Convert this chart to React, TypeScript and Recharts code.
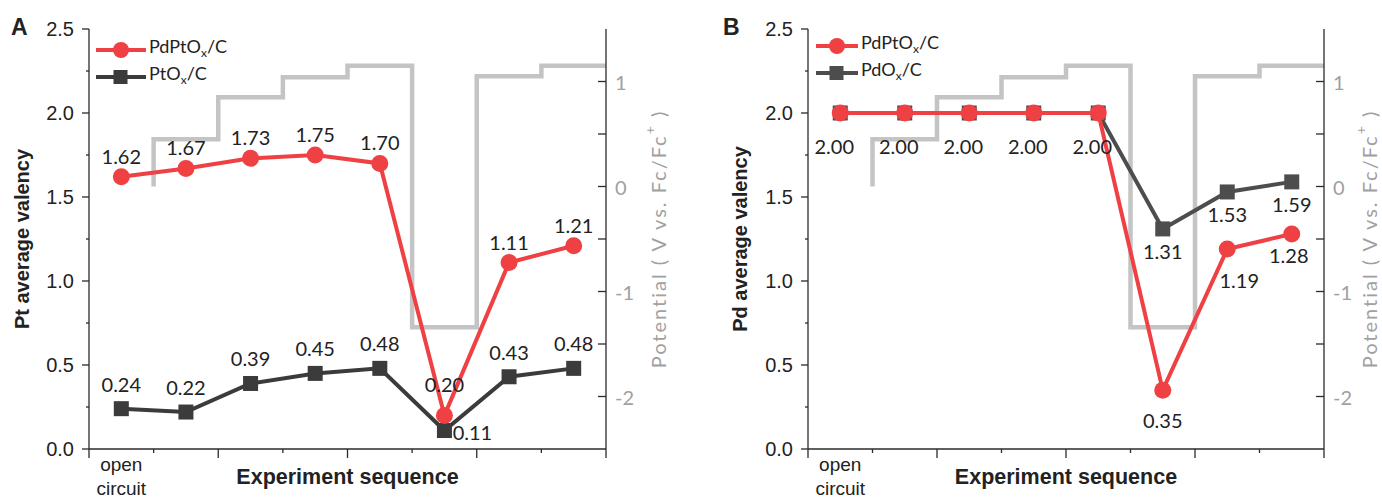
import React from "react";
import { LineChart, Line, XAxis, YAxis, Legend, LabelList } from "recharts";

// valency per step of the sequence (8 steps, first one is open circuit)
const ptPdPt = [1.62, 1.67, 1.73, 1.75, 1.7, 0.2, 1.11, 1.21];
const ptPtOx = [0.24, 0.22, 0.39, 0.45, 0.48, 0.11, 0.43, 0.48];
const pdPdPt = [2.0, 2.0, 2.0, 2.0, 2.0, 0.35, 1.19, 1.28];
const pdPdOx = [2.0, 2.0, 2.0, 2.0, 2.0, 1.31, 1.53, 1.59];

// applied potential (V vs Fc/Fc+), stepped at the sequence boundaries
const stepEdges = [1, 1, 2, 3, 4, 5, 6, 7, 8];
const potential = [0, 0.45, 0.85, 1.04, 1.15, -1.34, 1.05, 1.15, 1.15];

const xTicks = [0, 0.5, 1, 2, 3, 4, 5, 6, 7, 8];
const leftTicks = [0, 0.25, 0.5, 0.75, 1, 1.25, 1.5, 1.75, 2, 2.25, 2.5];
const rightTicks = [-2, -1.5, -1, -0.5, 0, 0.5, 1];

const RED = "#ef4044";
const GRAY = "#c4c4c4";
const AXIS = "#2b2b2b";
const MUTED = "#a0a0a0";
const INK = "#222";

const toSeries = (vals: number[]) => vals.map((v, i) => ({ x: i + 0.5, v }));
const stepSeries = stepEdges.map((x, i) => ({ x, v: potential[i] }));

const XTick = (p: any) => {
  const { x, y, payload } = p;
  const v = payload.value;
  if (v === 0.5) {
    return (
      <text x={x} y={y + 22} textAnchor="middle" fontFamily="Liberation Sans" fontSize={19} fill={INK}>
        <tspan x={x}>open</tspan>
        <tspan x={x} dy={24}>circuit</tspan>
      </text>
    );
  }
  const major = v % 2 === 0;
  return <line x1={x} x2={x} y1={y} y2={y + (major ? 9 : 4)} stroke={AXIS} strokeWidth={1.3} />;
};

const LeftTick = (p: any) => {
  const { x, y, payload } = p;
  const v = payload.value;
  const major = Math.abs(v * 2 - Math.round(v * 2)) < 1e-6;
  return (
    <g>
      <line x1={x - (major ? 7 : 3)} x2={x} y1={y} y2={y} stroke={AXIS} strokeWidth={1.3} />
      {major && (
        <text x={x - 15} y={y} textAnchor="end" dominantBaseline="central" fontFamily="Liberation Sans" fontSize={20} fill={INK}>
          {v.toFixed(1)}
        </text>
      )}
    </g>
  );
};

const RightTick = (p: any) => {
  const { x, y, payload } = p;
  const v = payload.value;
  return (
    <g>
      <line x1={x - 8} x2={x} y1={y} y2={y} stroke={AXIS} strokeWidth={1.3} />
      {Number.isInteger(v) && (
        <text x={x + 9} y={y} dominantBaseline="central" fontFamily="Lato" fontSize={20} fill={MUTED}>
          {v}
        </text>
      )}
    </g>
  );
};

const YTitle = ({ viewBox, text, dx }: any) => {
  const cx = viewBox.x + dx;
  const cy = viewBox.y + viewBox.height / 2;
  return (
    <text x={cx} y={cy} transform={`rotate(-90 ${cx} ${cy})`} textAnchor="middle" dominantBaseline="central"
      fontFamily="Liberation Sans" fontWeight="bold" fontSize={20} fill={INK}>
      {text}
    </text>
  );
};

const PotTitle = ({ viewBox, dx }: any) => {
  const cx = viewBox.x + dx;
  const cy = viewBox.y + viewBox.height / 2;
  return (
    <text x={cx} y={cy} transform={`rotate(-90 ${cx} ${cy})`} textAnchor="middle" dominantBaseline="central"
      fontFamily="Lato" fontSize={20} letterSpacing={2} fill={MUTED}>
      Potential ( V vs. Fc/Fc<tspan dy={-9} fontSize={14}>+</tspan><tspan dy={9}> )</tspan>
    </text>
  );
};

const XTitle = ({ viewBox }: any) => (
  <text x={viewBox.x + viewBox.width / 2} y={viewBox.y + 35} textAnchor="middle"
    fontFamily="Liberation Sans" fontWeight="bold" fontSize={21.5} fill={INK}>
    Experiment sequence
  </text>
);

const squareDot = (color: string) => (p: any) => (
  <rect key={p.index} x={p.cx - 7.5} y={p.cy - 7.5} width={15} height={15} fill={color} />
);

type Rule = (i: number) => { dx: number; dy: number } | null;

const valueLabel = (rule: Rule) => (p: any) => {
  const r = rule(p.index);
  if (!r) return null;
  return (
    <text key={p.index} x={p.x + r.dx} y={p.y + r.dy} textAnchor="middle" dominantBaseline="central"
      fontFamily="Lato" fontSize={20} fill={INK}>
      {Number(p.value).toFixed(2)}
    </text>
  );
};

const SubName = ({ name }: { name: string }) => {
  const [a, b] = name.split("Ox");
  return (
    <span>
      {a}O<sub style={{ fontSize: 12, verticalAlign: -4 }}>x</sub>{b}
    </span>
  );
};

const LegendBox = ({ names, darkColor, lineW }: any) => (
  <div style={{ fontFamily: "Lato", fontSize: 18, color: INK, lineHeight: "27px" }}>
    {names.map((n: string, i: number) => (
      <div key={n} style={{ display: "flex", alignItems: "center", height: 27 }}>
        <svg width={lineW + 4} height={20} style={{ marginRight: 1 }}>
          <line x1={2} x2={lineW + 2} y1={10} y2={10} stroke={i === 0 ? RED : darkColor} strokeWidth={4} />
          {i === 0 ? (
            <circle cx={lineW / 2 + 2} cy={10} r={8} fill={RED} />
          ) : (
            <rect x={lineW / 2 - 5.5} y={3} width={14} height={14} fill={darkColor} />
          )}
        </svg>
        <SubName name={n} />
      </div>
    ))}
  </div>
);

interface PanelProps {
  left: number;
  width: number;
  leftW: number;
  rightW: number;
  letter: string;
  letterX: number;
  yTitle: string;
  yTitleDx: number;
  potDx: number;
  names: string[];
  legendLeft: number;
  legendTop: number;
  legendLineW: number;
  red: number[];
  dark: number[];
  darkColor: string;
  redRule: Rule;
  darkRule: Rule;
}

function Panel(p: PanelProps) {
  return (
    <div style={{ position: "absolute", left: p.left, top: 0, width: p.width, height: 498 }}>
      <div style={{ position: "absolute", left: p.letterX, top: 14, fontFamily: "Liberation Sans", fontWeight: "bold", fontSize: 23, color: INK, zIndex: 2 }}>
        {p.letter}
      </div>
      <LineChart width={p.width} height={498} margin={{ top: 29, right: 0, bottom: 0, left: 0 }}>
        <XAxis dataKey="x" type="number" domain={[0, 8]} ticks={xTicks} interval={0} height={49}
          tick={<XTick />} tickSize={0} tickMargin={0} tickLine={false}
          axisLine={{ stroke: AXIS, strokeWidth: 1.3 }} label={<XTitle />} allowDataOverflow />
        <XAxis xAxisId="top" orientation="top" type="number" domain={[0, 8]} height={0}
          tick={false} tickLine={false} axisLine={{ stroke: AXIS, strokeWidth: 1.3 }} />
        <YAxis yAxisId="l" domain={[0, 2.5]} ticks={leftTicks} interval={0} width={p.leftW}
          tick={<LeftTick />} tickSize={0} tickMargin={0} tickLine={false}
          axisLine={{ stroke: AXIS, strokeWidth: 1.3 }} label={<YTitle text={p.yTitle} dx={p.yTitleDx} />} allowDataOverflow />
        <YAxis yAxisId="r" orientation="right" domain={[-2.5, 1.5]} ticks={rightTicks} interval={0} width={p.rightW}
          tick={<RightTick />} tickSize={0} tickMargin={0} tickLine={false}
          axisLine={{ stroke: AXIS, strokeWidth: 1.3 }} label={<PotTitle dx={p.potDx} />} allowDataOverflow />
        <Legend layout="vertical" verticalAlign="middle" align="center"
          wrapperStyle={{ left: p.legendLeft, top: p.legendTop, width: "auto" }}
          content={() => <LegendBox names={p.names} darkColor={p.darkColor} lineW={p.legendLineW} />} />
        <Line yAxisId="r" data={stepSeries} dataKey="v" type="stepAfter" stroke={GRAY} strokeWidth={4.5}
          dot={false} isAnimationActive={false} legendType="none" />
        <Line yAxisId="l" data={toSeries(p.dark)} dataKey="v" stroke={p.darkColor} strokeWidth={4}
          dot={squareDot(p.darkColor)} isAnimationActive={false}>
          <LabelList dataKey="v" content={valueLabel(p.darkRule)} />
        </Line>
        <Line yAxisId="l" data={toSeries(p.red)} dataKey="v" stroke={RED} strokeWidth={4}
          dot={{ r: 8.5, fill: RED, stroke: RED, strokeWidth: 0 }} isAnimationActive={false}>
          <LabelList dataKey="v" content={valueLabel(p.redRule)} />
        </Line>
      </LineChart>
    </div>
  );
}

export default function App() {
  return (
    <div style={{ position: "absolute", left: 0, top: 0, width: 1382, height: 498, background: "#fff", overflow: "hidden" }}>
      <Panel left={0} width={700} leftW={89} rightW={94} letter="A" letterX={11}
        yTitle="Pt average valency" yTitleDx={22} potDx={52}
        names={["PdPtOx/C", "PtOx/C"]} legendLeft={94} legendTop={36} legendLineW={50}
        red={ptPdPt} dark={ptPtOx} darkColor="#3b3b3b"
        redRule={(i) => (i === 5 ? { dx: 0, dy: -31 } : { dx: 0, dy: -21 })}
        darkRule={(i) => (i === 5 ? { dx: 28, dy: 1 } : { dx: 0, dy: -25 })} />
      <Panel left={700} width={682} leftW={108} rightW={58} letter="B" letterX={23}
        yTitle="Pd average valency" yTitleDx={40} potDx={45}
        names={["PdPtOx/C", "PdOx/C"]} legendLeft={114} legendTop={32} legendLineW={42}
        red={pdPdPt} dark={pdPdOx} darkColor="#4d4d4d"
        redRule={(i) => (i < 5 ? { dx: -6, dy: 33 } : i === 5 ? { dx: 0, dy: 30 } : i === 6 ? { dx: 12, dy: 31 } : { dx: -3, dy: 21 })}
        darkRule={(i) => (i < 5 ? null : { dx: 0, dy: 22 })} />
    </div>
  );
}
